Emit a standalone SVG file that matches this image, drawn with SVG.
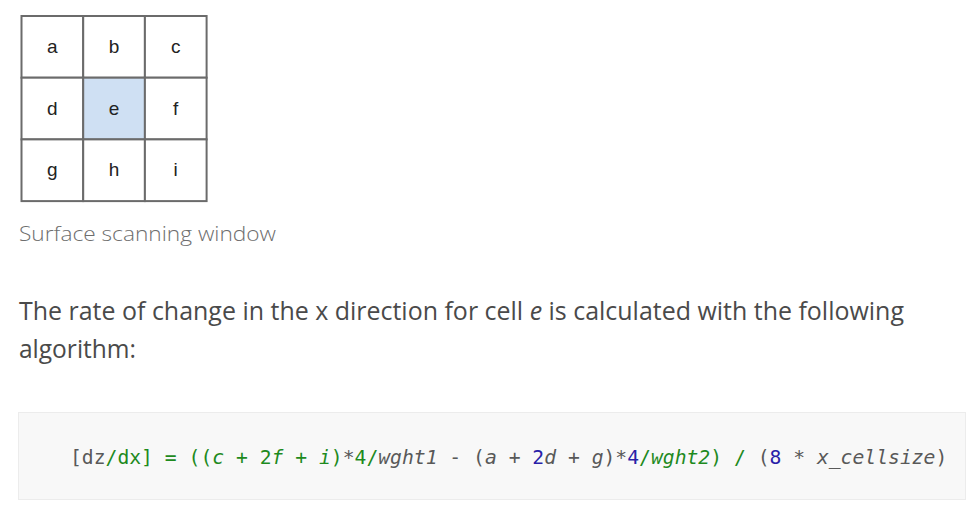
<svg xmlns="http://www.w3.org/2000/svg" width="974" height="506" viewBox="0 0 974 506">
<style>
.cell{fill:#ffffff;stroke:#6b6b6b;stroke-width:2}
.sel{fill:#cfe0f3}
.lbl{font-family:"Liberation Sans",Arial,sans-serif;font-size:19px;fill:#222;text-anchor:middle}
.cap{font-family:"Open Sans","Noto Sans",sans-serif;font-weight:300;font-size:21px;fill:#6e6e6e}
.para{font-family:"Open Sans","Noto Sans",sans-serif;font-size:25px;fill:#4a4a4a}
.code{font-family:"DejaVu Sans Mono","Liberation Mono",monospace;font-size:19.7px;fill:#595959}
.g{fill:#1e8a1e}
.b{fill:#2a1fa8}
.it{font-style:italic}
</style>
<rect width="974" height="506" fill="#ffffff"/>
<g id="grid">
<g id="cell-a"><rect class="cell" x="21.5" y="16" width="61.7" height="61.7"/><text class="lbl" x="52.3" y="53">a</text></g>
<g id="cell-b"><rect class="cell" x="83.2" y="16" width="61.7" height="61.7"/><text class="lbl" x="114" y="53">b</text></g>
<g id="cell-c"><rect class="cell" x="144.9" y="16" width="61.7" height="61.7"/><text class="lbl" x="175.7" y="53">c</text></g>
<g id="cell-d"><rect class="cell" x="21.5" y="77.7" width="61.7" height="61.7"/><text class="lbl" x="52.3" y="114.5">d</text></g>
<g id="cell-e"><rect class="cell sel" x="83.2" y="77.7" width="61.7" height="61.7"/><text class="lbl" x="114" y="114.5">e</text></g>
<g id="cell-f"><rect class="cell" x="144.9" y="77.7" width="61.7" height="61.7"/><text class="lbl" x="175.7" y="114.5">f</text></g>
<g id="cell-g"><rect class="cell" x="21.5" y="139.4" width="61.7" height="61.7"/><text class="lbl" x="52.3" y="176">g</text></g>
<g id="cell-h"><rect class="cell" x="83.2" y="139.4" width="61.7" height="61.7"/><text class="lbl" x="114" y="176">h</text></g>
<g id="cell-i"><rect class="cell" x="144.9" y="139.4" width="61.7" height="61.7"/><text class="lbl" x="175.7" y="176">i</text></g>
</g>
<g id="connectors"></g>
<text class="cap" x="19" y="241" textLength="257" lengthAdjust="spacingAndGlyphs">Surface scanning window</text>
<text class="para" x="19" y="320" textLength="885" lengthAdjust="spacingAndGlyphs">The rate of change in the x direction for cell <tspan font-style="italic">e</tspan> is calculated with the following</text>
<text class="para" x="19" y="358" textLength="117" lengthAdjust="spacingAndGlyphs">algorithm:</text>
<rect x="18.5" y="412.5" width="947" height="87" fill="#f8f8f8" stroke="#ececec" stroke-width="1"/>
<text class="code" x="70" y="464" xml:space="preserve">[dz<tspan class="g">/dx] = ((<tspan class="it">c</tspan> + 2<tspan class="it">f</tspan> + <tspan class="it">i</tspan>)</tspan>*<tspan class="g">4/</tspan><tspan class="it">wght1</tspan> - (<tspan class="it">a</tspan> + <tspan class="b">2</tspan><tspan class="it">d</tspan> + <tspan class="it">g</tspan>)*<tspan class="b">4</tspan><tspan class="g">/<tspan class="it">wght2</tspan>) / </tspan>(<tspan class="b">8</tspan> * <tspan class="it">x_cellsize</tspan>)</text>
</svg>
